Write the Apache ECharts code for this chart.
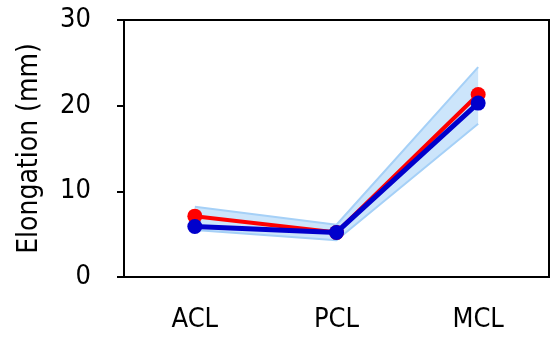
<!DOCTYPE html>
<html><head><meta charset="utf-8">
<script src="https://cdn.jsdelivr.net/npm/echarts@6/dist/echarts.min.js"></script>
<style>html,body{margin:0;padding:0;background:#fff}#c{width:559px;height:338px}</style>
</head><body><div id="c"></div>
<script>
const categories = ['ACL', 'PCL', 'MCL'];
const redValues = [7.1, 5.2, 21.3];
const blueValues = [5.9, 5.2, 20.3];
const bandLower = [5.5, 4.3, 17.9];
const bandUpper = [8.2, 6.1, 24.5];
const yTicks = [0, 10, 20, 30];

const bandDiff = bandUpper.map((u, i) => +(u - bandLower[i]).toFixed(2));
const font = 'DejaVu Sans Condensed';
const chart = echarts.init(document.getElementById('c'));
chart.setOption({
  animation: false,
  grid: { left: 124, right: 10, top: 20, bottom: 61, show: true, borderColor: '#000', borderWidth: 2, backgroundColor: 'transparent' },
  xAxis: {
    type: 'category', data: categories, boundaryGap: true,
    axisLine: { lineStyle: { color: '#000', width: 2 } },
    axisTick: { inside: true, length: 7, lineStyle: { color: '#000', width: 2 } },
    axisLabel: { color: '#000', fontFamily: font, fontSize: 27, margin: 29 }
  },
  yAxis: {
    type: 'value', min: yTicks[0], max: yTicks[yTicks.length - 1], interval: 10,
    name: 'Elongation (mm)', nameLocation: 'middle', nameGap: 80,
    nameTextStyle: { color: '#000', fontFamily: font, fontSize: 28 },
    splitLine: { show: false },
    axisLine: { show: true, lineStyle: { color: '#000', width: 2 } },
    axisTick: { show: true, length: 7, lineStyle: { color: '#000', width: 2 } },
    axisLabel: { color: '#000', fontFamily: font, fontSize: 27, margin: 33 }
  },
  series: [
    { type: 'line', data: bandLower, stack: 'band', symbol: 'none',
      lineStyle: { color: '#a5d0f7', width: 2 }, z: 1 },
    { type: 'line', data: bandDiff, stack: 'band', symbol: 'none',
      lineStyle: { color: '#a5d0f7', width: 2 },
      areaStyle: { color: '#cce5fb', opacity: 1 }, z: 1 },
    { type: 'line', data: redValues, symbol: 'circle', symbolSize: 15,
      itemStyle: { color: '#ff0000' }, lineStyle: { color: '#ff0000', width: 4 }, z: 3 },
    { type: 'line', data: blueValues, symbol: 'circle', symbolSize: 15,
      itemStyle: { color: '#0000cc' }, lineStyle: { color: '#0000cc', width: 5 }, z: 4 }
  ]
});
</script></body></html>
